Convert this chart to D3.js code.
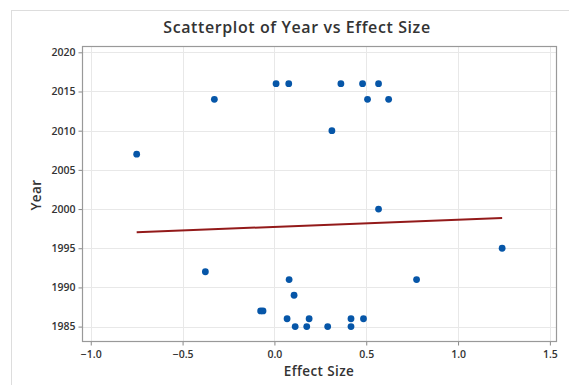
<!DOCTYPE html>
<html><head><meta charset="utf-8">
<script src="https://cdn.jsdelivr.net/npm/d3@7"></script>
<style>
body{margin:0;background:#fff;}
text{font-family:"Open Sans",sans-serif;fill:#333;}
</style></head>
<body><svg id="c" width="569" height="385"></svg>
<script>
const effectSize = [-0.75,-0.327,0.009,0.078,0.313,0.362,0.48,0.567,0.507,0.622,0.567,-0.376,-0.075,-0.062,0.08,0.107,0.069,0.189,0.113,0.176,0.29,1.24,0.774,0.417,0.417,0.485];
const year =       [2007,2014,2016,2016,2010,2016,2016,2016,2014,2014,2000,1992,1987,1987,1991,1989,1986,1986,1985,1985,1985,1995,1991,1986,1985,1986];
const fitX = [-0.75, 1.24];
const fitY = [1997.05, 1998.85];
const xTicks = [-1.0,-0.5,0.0,0.5,1.0,1.5];
const yTicks = [1985,1990,1995,2000,2005,2010,2015,2020];

const svg = d3.select("#c");
const L=82.5, R=556.5, T=46.5, B=341.5;
const x = d3.scaleLinear().domain([-1.045,1.536]).range([L,R]);
const y = d3.scaleLinear().domain([1983.1,2020.74]).range([B,T]);

svg.append("rect").attr("x",11.5).attr("y",10.5).attr("width",560).attr("height",380)
  .attr("fill","none").attr("stroke","#ddd");

// grid
svg.append("g").selectAll("line").data(xTicks).join("line")
  .attr("x1",d=>Math.round(x(d))+0.5).attr("x2",d=>Math.round(x(d))+0.5).attr("y1",T).attr("y2",B)
  .attr("stroke","#e8e8e8");
svg.append("g").selectAll("line").data(yTicks).join("line")
  .attr("y1",d=>Math.round(y(d))+0.5).attr("y2",d=>Math.round(y(d))+0.5).attr("x1",L).attr("x2",R)
  .attr("stroke","#e8e8e8");

// axes
const xa = svg.append("g").attr("transform",`translate(0,${B})`)
  .call(d3.axisBottom(x).tickValues(xTicks).tickFormat(d3.format(".1f")).tickSize(4).tickSizeOuter(0));
const ya = svg.append("g").attr("transform",`translate(${L},0)`)
  .call(d3.axisLeft(y).tickValues(yTicks).tickFormat(d3.format("d")).tickSize(4).tickSizeOuter(0));
[xa,ya].forEach(a=>{
  a.select(".domain").remove();
  a.selectAll(".tick line").attr("stroke","#888");
  a.selectAll(".tick text").attr("font-size","10.5px").attr("font-weight","600")
   .style("font-family","'Open Sans',sans-serif").attr("fill","#333");
});
xa.selectAll(".tick text").attr("dy","0.9em");

svg.append("rect").attr("x",L).attr("y",T).attr("width",R-L).attr("height",B-T)
  .attr("fill","none").attr("stroke","#999").attr("stroke-width",1.2);

// fit line
svg.append("line").attr("x1",x(fitX[0])).attr("x2",x(fitX[1])).attr("y1",y(fitY[0])).attr("y2",y(fitY[1]))
  .attr("stroke","#931a1a").attr("stroke-width",2);

// points
svg.append("g").selectAll("circle").data(effectSize).join("circle")
  .attr("cx",d=>x(d)).attr("cy",(d,i)=>y(year[i])).attr("r",3.4).attr("fill","#0656a8");

svg.append("text").attr("x",297).attr("y",33).attr("text-anchor","middle")
  .attr("font-size","16px").attr("font-weight","600").attr("letter-spacing","0.6px")
  .text("Scatterplot of Year vs Effect Size");
svg.append("text").attr("x",319).attr("y",376).attr("text-anchor","middle")
  .attr("font-size","13.5px").attr("font-weight","600").attr("letter-spacing","0.4px").text("Effect Size");
svg.append("text").attr("transform","translate(41,195) rotate(-90)").attr("text-anchor","middle")
  .attr("font-size","13.5px").attr("font-weight","600").attr("letter-spacing","0.4px").text("Year");
</script></body></html>
